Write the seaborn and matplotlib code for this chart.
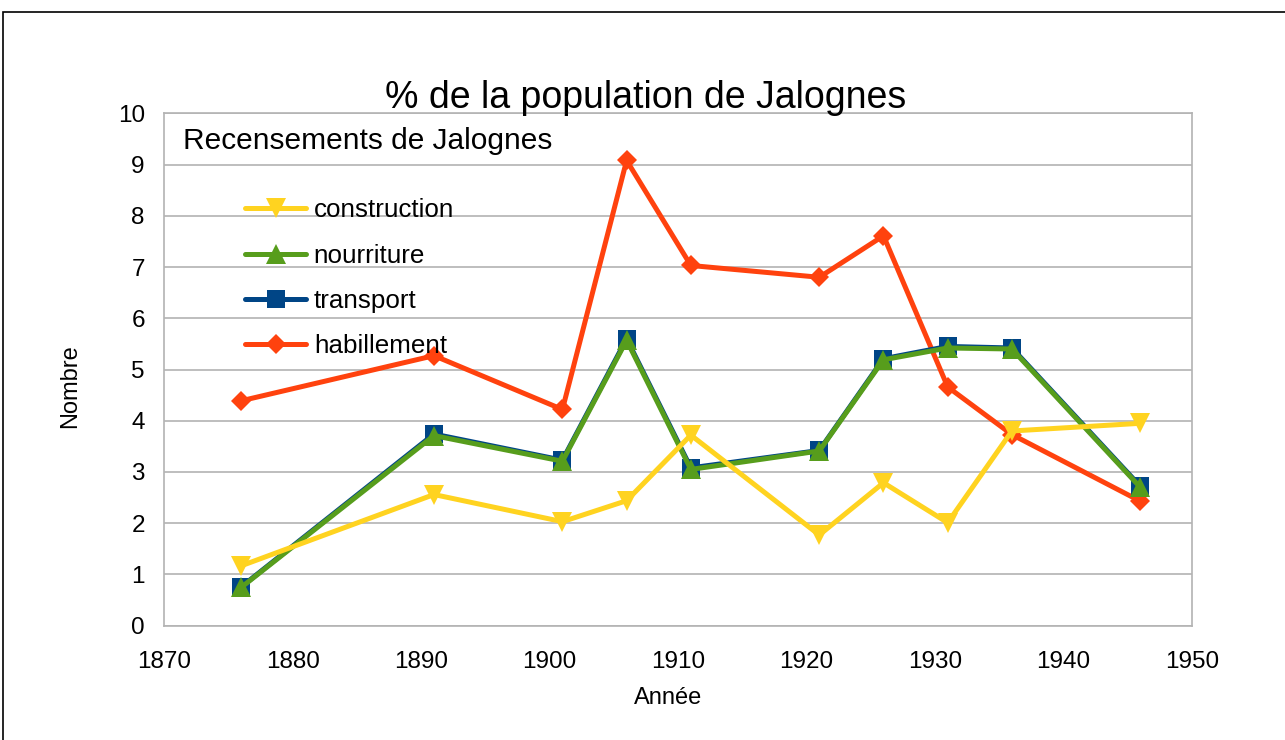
import matplotlib
matplotlib.use("Agg")
import matplotlib.pyplot as plt
from matplotlib.patches import Rectangle
import seaborn as sns
import pandas as pd

years = [1876, 1891, 1901, 1906, 1911, 1921, 1926, 1931, 1936, 1946]
construction = [1.17, 2.56, 2.03, 2.44, 3.72, 1.77, 2.79, 2.01, 3.80, 3.95]
nourriture = [0.75, 3.71, 3.21, 5.57, 3.05, 3.41, 5.19, 5.42, 5.40, 2.70]
transport = [0.76, 3.74, 3.23, 5.60, 3.08, 3.42, 5.21, 5.45, 5.42, 2.72]
habillement = [4.39, 5.27, 4.22, 9.08, 7.03, 6.80, 7.61, 4.66, 3.73, 2.43]

series_names = ["construction", "nourriture", "transport", "habillement"]
title = "% de la population de Jalognes"
subtitle = "Recensements de Jalognes"
x_label = "Année"
y_label = "Nombre"
x_ticks = [1870, 1880, 1890, 1900, 1910, 1920, 1930, 1940, 1950]
y_ticks = [0, 1, 2, 3, 4, 5, 6, 7, 8, 9, 10]

values = {"construction": construction, "nourriture": nourriture,
          "transport": transport, "habillement": habillement}
colors = {"construction": "#FFD320", "nourriture": "#579D1C",
          "transport": "#004586", "habillement": "#FF420E"}
markers = {"construction": "v", "nourriture": "^", "transport": "s", "habillement": "D"}
msizes = {"construction": 14, "nourriture": 14, "transport": 13.5, "habillement": 10.5}

sns.set_theme(style="white")
plt.rcParams["font.family"] = ["Liberation Sans", "DejaVu Sans"]
plt.rcParams["text.color"] = "black"
plt.rcParams["axes.labelcolor"] = "black"

fig = plt.figure(figsize=(12.85, 7.40), dpi=100)
ax = fig.add_axes([164.3 / 1285, 1 - 625.7 / 740, (1191.7 - 164.3) / 1285, (625.7 - 113.3) / 740])

draw_order = ["habillement", "transport", "nourriture", "construction"]
for name in draw_order:
    df = pd.DataFrame({"Année": years, "Nombre": values[name]})
    sns.lineplot(data=df, x="Année", y="Nombre", ax=ax, color=colors[name],
                 marker=markers[name], markersize=msizes[name], markeredgewidth=0,
                 linewidth=3.6, label=name)
h, l = ax.get_legend_handles_labels()
hmap = dict(zip(l, h))
leg = ax.legend([hmap[n] for n in series_names], series_names,
                loc="upper left", bbox_to_anchor=((245 - 164.3) / 1027.4, (625.7 - 198.5) / 512.4),
                frameon=False, fontsize=18.7, handlelength=2.35, handletextpad=0.3,
                labelspacing=0.82, borderpad=0, borderaxespad=0)

ax.set_xlim(1870, 1950)
ax.set_ylim(0, 10)
ax.set_xticks(x_ticks)
ax.set_yticks(y_ticks)
ax.tick_params(axis="both", which="major", labelsize=17.5, length=8, width=1.2,
               color="#b3b3b3", direction="out", labelcolor="black")
ax.tick_params(axis="x", pad=10)
ax.tick_params(axis="y", pad=6)
ax.grid(axis="y", color="#b3b3b3", linewidth=1.2)
ax.grid(axis="x", visible=False)
ax.set_axisbelow(True)
for sp in ax.spines.values():
    sp.set_color("#b3b3b3")
    sp.set_linewidth(1.2)

ax.set_xlabel(x_label, fontsize=17)
ax.set_ylabel(y_label, fontsize=17)
ax.xaxis.set_label_coords((668 - 164.3) / 1027.4, (625.7 - 698) / 512.4)
ax.xaxis.label.set_va("center")
ax.yaxis.set_label_coords((70 - 164.3) / 1027.4, (625.7 - 386) / 512.4)
ax.yaxis.label.set_va("center")

ax.text((183 - 164.3) / 1027.4, (625.7 - 141) / 512.4, subtitle, transform=ax.transAxes,
        fontsize=21.5, ha="left", va="center", color="black")
fig.text(646 / 1285, 1 - 108 / 740, title, fontsize=27, ha="center", va="baseline", color="black")

fig.add_artist(Rectangle((3 / 1285, -0.1), 2, 1 - 12.5 / 740 + 0.1, transform=fig.transFigure,
                         fill=False, edgecolor="black", linewidth=1.2))

fig.savefig("out.png", dpi=100, facecolor="white")
